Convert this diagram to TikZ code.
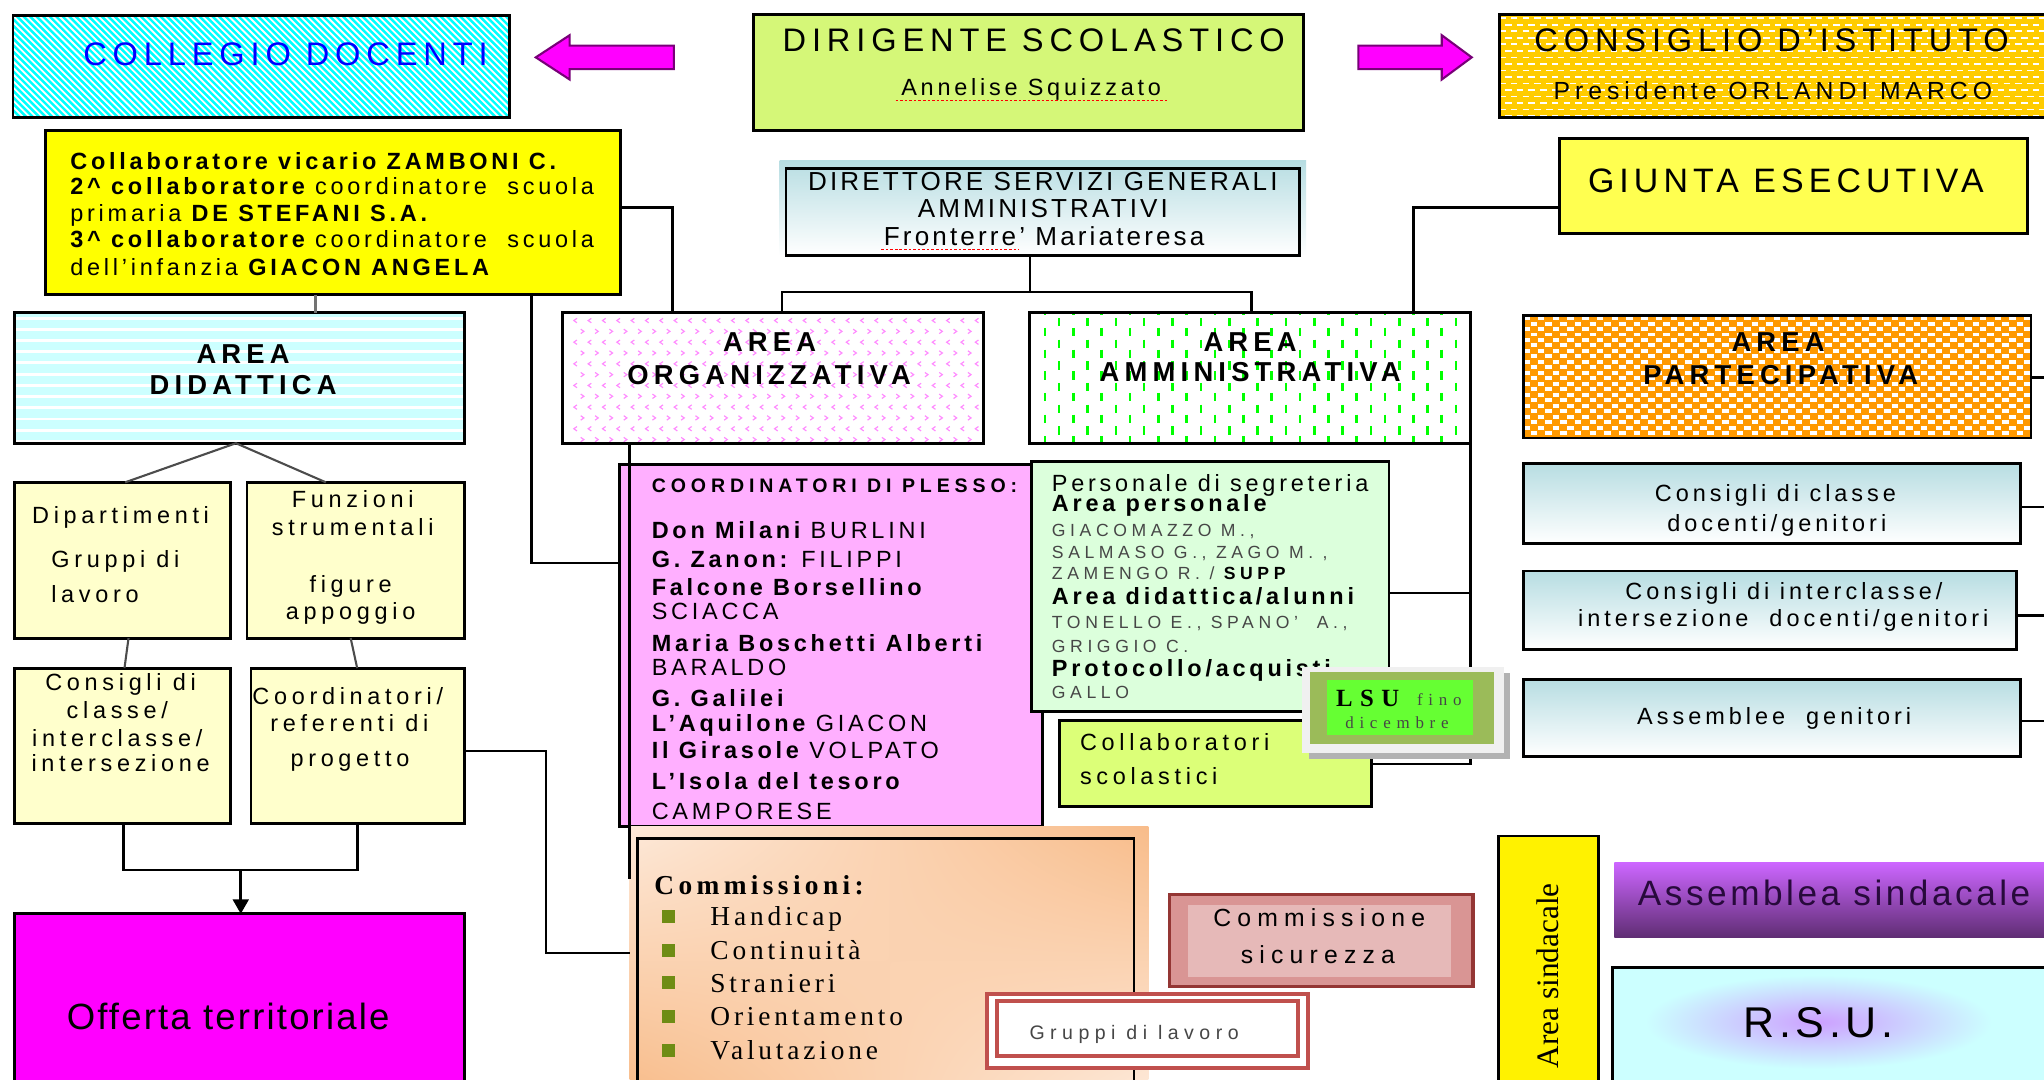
\documentclass[tikz,border=0pt]{standalone}
\usepackage{fontspec}
\setmainfont{Liberation Sans}
\newfontfamily\srf{Liberation Serif}
\usetikzlibrary{arrows.meta,fit,shadings}
\newcommand\fs[1]{\fontsize{#1}{#1}\selectfont}
\newcommand\ls[1]{\addfontfeature{LetterSpace=#1}}
\definecolor{cyanA}{RGB}{0,255,255}
\definecolor{lcyan}{RGB}{204,255,255}
\definecolor{dirig}{RGB}{213,247,120}
\definecolor{consI}{RGB}{255,204,0}
\definecolor{giuntaY}{RGB}{255,255,80}
\definecolor{collabY}{RGB}{255,255,0}
\definecolor{gradT}{RGB}{183,221,226}
\definecolor{pinkpl}{RGB}{255,175,255}
\definecolor{pinkmk}{RGB}{255,140,255}
\definecolor{greenA}{RGB}{0,255,0}
\definecolor{persG}{RGB}{220,255,220}
\definecolor{collS}{RGB}{220,255,120}
\definecolor{orangeP}{RGB}{255,153,0}
\definecolor{lyell}{RGB}{255,255,204}
\definecolor{mag}{RGB}{255,0,255}
\definecolor{purpB}{RGB}{120,0,120}
\definecolor{peachD}{RGB}{248,188,138}
\definecolor{peachL}{RGB}{253,233,217}
\definecolor{redG}{RGB}{192,80,77}
\definecolor{redD}{RGB}{148,54,52}
\definecolor{rosa}{RGB}{217,149,148}
\definecolor{rosaL}{RGB}{230,185,184}
\definecolor{oliveG}{RGB}{155,187,89}
\definecolor{lsuG}{RGB}{102,255,51}
\definecolor{violA}{RGB}{204,102,255}
\definecolor{violD}{RGB}{95,45,115}
\definecolor{lav}{RGB}{204,160,255}
\definecolor{bulG}{RGB}{110,140,20}
\definecolor{dg}{RGB}{70,70,70}
\definecolor{txtP}{RGB}{40,10,60}
\begin{document}
\begin{tikzpicture}[x=1pt,y=-1pt,
  bx/.style={draw=black, line width=2.2pt, inner sep=0pt, outer sep=0pt},
  fb/.style={inner sep=0pt, outer sep=0pt},
  conn/.style={draw=black, line width=2pt},
  thinc/.style={draw=black!70, line width=1.6pt},
  tx/.style={inner sep=0pt, outer sep=0pt, anchor=base},
  txw/.style={inner sep=0pt, outer sep=0pt, anchor=base west},
  brd/.style={draw=black, line width=2.2pt}]
\clip (0,0) rectangle (1568,828);
\fill[white] (0,0) rectangle (1568,828);

% ---------- COLLEGIO DOCENTI
\node[fb, fit={(10,12) (391,90)}, fill=cyanA] (collegio) {};
\begin{scope}
 \clip (10,12) rectangle (391,90);
 \foreach \i in {-80,-75,...,395} \draw[white, line width=1.4pt] (10+\i,12) -- (88+\i,90);
\end{scope}
\draw[brd] (collegio.north west) rectangle (collegio.south east);
\node[tx, text=blue] (tcol) at (219,50.5) {\fs{25}\ls{18}COLLEGIO DOCENTI};

% ---------- arrows
\path[fill=mag, draw=purpB, line width=1.6pt] (411,44) -- (437,27) -- (437,35) -- (517,35) -- (517,53) -- (437,53) -- (437,61) -- cycle;
\path[fill=mag, draw=purpB, line width=1.6pt] (1129,44) -- (1106,27) -- (1106,35) -- (1042,35) -- (1042,53) -- (1106,53) -- (1106,61) -- cycle;

% ---------- DIRIGENTE
\node[bx, fit={(578,11) (1000,100)}, fill=dirig] (dirig) {};
\node[tx] (tdir1) at (793,39.5) {\fs{25}\ls{18}DIRIGENTE SCOLASTICO};
\node[tx] (tdir2) at (791,73) {\fs{18}\ls{16}Annelise Squizzato};
\draw[red, line width=1pt, dash pattern=on 2pt off 1.5pt] (687,77) -- (896,77);

% ---------- CONSIGLIO
\node[fb, fit={(1150,11) (1600,90)}, fill=consI] (consiglio) {};
\begin{scope}
 \clip (1150,11) rectangle (1600,90);
 \foreach \y in {14,24,...,90} \draw[white, line width=1.3pt, dash pattern=on 5pt off 4pt] (1150,\y) -- (1600,\y);
 \foreach \y in {19,29,...,90} \draw[white, line width=1.3pt, dash pattern=on 5pt off 4pt, dash phase=4.5pt] (1150,\y) -- (1600,\y);
\end{scope}
\draw[brd] (consiglio.north west) rectangle (consiglio.south east);
\node[tx] (tcons1) at (1359,39.5) {\fs{25}\ls{18}CONSIGLIO D'ISTITUTO};
\node[tx] (tcons2) at (1360,76.5) {\fs{19}\ls{20}Presidente ORLANDI MARCO};

% ---------- GIUNTA
\node[bx, fit={(1196,106) (1555,179)}, fill=giuntaY] (giunta) {};
\node[tx] (tgiu) at (1370,148) {\fs{26}\ls{15}GIUNTA ESECUTIVA};

% ---------- DSGA
\shade[top color=gradT, bottom color=white] (598,123) rectangle (1002,196);
\node[bx, fit={(603,129) (997,196)}] (dsga) {};
\node[tx] (tds1) at (800,146.5) {\fs{20}\ls{12}DIRETTORE SERVIZI GENERALI};
\node[tx] (tds2) at (800,167) {\fs{20}\ls{12}AMMINISTRATIVI};
\node[tx] (tds3) at (801,188) {\fs{20}\ls{12}Fronterre' Mariateresa};
\draw[red, line width=1pt, dash pattern=on 2pt off 1.5pt] (676,191.5) -- (782,191.5);

% ---------- COLLABORATORI DS
\node[bx, fit={(35,100) (476,226)}, fill=collabY] (collab) {};
\node[txw] (tc1) at (54,130) {\bfseries\fs{18}\ls{16}Collaboratore vicario ZAMBONI C.};
\node[txw] (tc2) at (54,149) {\fs{18}\ls{16}{\bfseries 2\textasciicircum{} collaboratore} coordinatore \ scuola};
\node[txw] (tc3) at (54,170) {\fs{18}\ls{16}primaria {\bfseries DE STEFANI S.A.}};
\node[txw] (tc4) at (54,190) {\fs{18}\ls{16}{\bfseries 3\textasciicircum{} collaboratore} coordinatore \ scuola};
\node[txw] (tc5) at (54,211) {\fs{18}\ls{16}dell'infanzia {\bfseries GIACON ANGELA}};

% ---------- AREA DIDATTICA
\node[fb, fit={(11,240) (356,340)}, fill=lcyan] (didattica) {};
\begin{scope}
 \clip (11,240) rectangle (356,340);
 \foreach \y in {244,252.6,...,340} \draw[white, line width=2.2pt] (11,\y) -- (356,\y);
\end{scope}
\draw[brd] (didattica.north west) rectangle (didattica.south east);
\node[tx] (tad1) at (186.5,278.5) {\bfseries\fs{21}\ls{19}AREA};
\node[tx] (tad2) at (186.5,303) {\bfseries\fs{21}\ls{19}DIDATTICA};

% ---------- AREA ORGANIZZATIVA
\node[fb, fit={(431.5,240) (754.5,340)}, fill=white] (org) {};
\begin{scope}
 \clip (431.5,240) rectangle (754.5,340);
 \foreach \r in {0,...,5} \foreach \c in {0,...,29} {
   \draw[pinkmk, line width=0.9pt] (442.6+\c*11, 244.2+\r*16.6) -- ++(-2.4,1.7) -- ++(2.4,1.7);
   \draw[pinkmk, line width=0.9pt] (445.5+\c*11, 252.5+\r*16.6) -- ++(2.4,1.7) -- ++(-2.4,1.7);
 }
\end{scope}
\draw[brd] (org.north west) rectangle (org.south east);
\node[tx] (tao1) at (590.4,269.5) {\bfseries\fs{21}\ls{19}AREA};
\node[tx] (tao2) at (590,295) {\bfseries\fs{21}\ls{19}ORGANIZZATIVA};

% ---------- AREA AMMINISTRATIVA
\node[fb, fit={(790,240) (1128,340)}, fill=white] (amm) {};
\begin{scope}
 \clip (790,240) rectangle (1128,340);
 \foreach \c in {0,...,15} {
   \draw[greenA, line width=2pt, dash pattern=on 6.4pt off 10.2pt] (801.6+\c*21.74, 235) -- ++(0,110);
   \draw[greenA, line width=2pt, dash pattern=on 6.4pt off 10.2pt] (812.5+\c*21.74, 227.4) -- ++(0,120);
 }
\end{scope}
\draw[brd] (amm.north west) rectangle (amm.south east);
\node[tx] (taa1) at (959,269.5) {\bfseries\fs{21}\ls{19}AREA};
\node[tx] (taa2) at (959,292.5) {\bfseries\fs{21}\ls{19}AMMINISTRATIVA};

% ---------- AREA PARTECIPATIVA
\node[fb, fit={(1168.5,242) (1558,336)}, fill=orangeP] (part) {};
\begin{scope}
 \clip (1168.5,242) rectangle (1558,336);
 \foreach \y in {244,252.4,...,340} \draw[white, line width=3pt, dash pattern=on 5pt off 6.3pt] (1168.5,\y) -- (1560,\y);
 \foreach \y in {248.2,256.6,...,340} \draw[white, line width=3pt, dash pattern=on 5pt off 6.3pt, dash phase=5.65pt] (1168.5,\y) -- (1560,\y);
\end{scope}
\draw[brd] (part.north west) rectangle (part.south east);
\node[tx] (tap1) at (1364,269.5) {\bfseries\fs{21}\ls{19}AREA};
\node[tx] (tap2) at (1366,295) {\bfseries\fs{21}\ls{19}PARTECIPATIVA};

% ---------- left column
\node[bx, fit={(11,370) (177,489.5)}, fill=lyell] (dip) {};
\node[bx, fit={(189.5,370) (356,489.5)}, fill=lyell] (fun) {};
\node[bx, fit={(11,512.5) (177,631.5)}, fill=lyell] (ccl) {};
\node[bx, fit={(192.5,512.5) (356,631.5)}, fill=lyell] (cref) {};
\node[bx, fit={(11,701) (356,840)}, fill=mag] (off) {};
\node[tx] (td1) at (92.5,401.5) {\fs{18}\ls{20}Dipartimenti};
\node[txw] (td2) at (39.4,435.6) {\fs{18}\ls{20}Gruppi di};
\node[txw] (td3) at (39.4,462) {\fs{18}\ls{20}lavoro};
\node[tx] (tf1) at (270.6,389.6) {\fs{18}\ls{20}Funzioni};
\node[tx] (tf2) at (270.6,410.7) {\fs{18}\ls{20}strumentali};
\node[tx] (tf3) at (269,454.4) {\fs{18}\ls{20}figure};
\node[tx] (tf4) at (269,475.5) {\fs{18}\ls{20}appoggio};
\node[tx] (tk1) at (92.5,529.8) {\fs{18}\ls{20}Consigli di};
\node[tx] (tk2) at (90,550.8) {\fs{18}\ls{20}classe/};
\node[tx] (tk3) at (90,572.6) {\fs{18}\ls{20}interclasse/};
\node[tx] (tk4) at (92.5,592) {\fs{18}\ls{20}intersezione};
\node[tx] (tr1) at (266.8,540.4) {\fs{18}\ls{20}Coordinatori/};
\node[tx] (tr2) at (268,561.5) {\fs{18}\ls{20}referenti di};
\node[tx] (tr3) at (268.5,588) {\fs{18}\ls{20}progetto};
\node[tx] (toff) at (175,789.5) {\fs{28}\ls{6}Offerta territoriale};

% ---------- COORDINATORI DI PLESSO
\node[bx, fit={(475,356) (800,634)}, fill=pinkpl] (coordPl) {};
\node[txw] (cp0) at (500,378) {\bfseries\fs{15}\ls{25}COORDINATORI DI PLESSO:};
\node[txw] (cp1) at (500,413) {\fs{18}\ls{16}{\bfseries Don Milani} BURLINI};
\node[txw] (cp2) at (500,435) {\fs{18}\ls{16}{\bfseries G. Zanon:} FILIPPI};
\node[txw] (cp3) at (500,457) {\bfseries\fs{18}\ls{16}Falcone Borsellino};
\node[txw] (cp4) at (500,475) {\fs{18}\ls{16}SCIACCA};
\node[txw] (cp5) at (500,500) {\bfseries\fs{18}\ls{16}Maria Boschetti Alberti};
\node[txw] (cp6) at (500,518) {\fs{18}\ls{16}BARALDO};
\node[txw] (cp7) at (500,542) {\bfseries\fs{18}\ls{16}G. Galilei};
\node[txw] (cp8) at (500,561) {\fs{18}\ls{16}{\bfseries L'Aquilone} GIACON};
\node[txw] (cp9) at (500,582) {\fs{18}\ls{16}{\bfseries Il Girasole} VOLPATO};
\node[txw] (cp10) at (500,606) {\bfseries\fs{18}\ls{16}L'Isola del tesoro};
\node[txw] (cp11) at (500,629) {\fs{18}\ls{16}CAMPORESE};

% ---------- Personale di segreteria
\node[bx, fit={(791.5,354) (1065.5,546)}, fill=persG] (persSeg) {};
\node[txw] (ps1) at (807,377) {\fs{18}\ls{16}Personale di segreteria};
\node[txw] (ps2) at (807,392) {\bfseries\fs{18}\ls{16}Area personale};
\node[txw, text=dg] (ps3) at (807,411.5) {\fs{13.5}\ls{26}GIACOMAZZO M.,};
\node[txw, text=dg] (ps4) at (807,428.5) {\fs{13.5}\ls{26}SALMASO G., ZAGO M. ,};
\node[txw, text=dg] (ps5) at (807,444.5) {\fs{13.5}\ls{26}ZAMENGO R. / {\bfseries\color{black}SUPP}};
\node[txw] (ps6) at (807,464) {\bfseries\fs{18}\ls{16}Area didattica/alunni};
\node[txw, text=dg] (ps7) at (807,482.5) {\fs{13.5}\ls{26}TONELLO E., SPANO' \ A.,};
\node[txw, text=dg] (ps8) at (807,500.5) {\fs{13.5}\ls{26}GRIGGIO C.};
\node[txw] (ps9) at (807,519) {\bfseries\fs{18}\ls{16}Protocollo/acquisti};
\node[txw, text=dg] (ps10) at (807,535.5) {\fs{13.5}\ls{26}GALLO};

% ---------- Collaboratori scolastici
\node[bx, fit={(812.5,553) (1052,619)}, fill=collS] (collSc) {};
\node[txw] (cs1) at (828.5,576) {\fs{18}\ls{20}Collaboratori};
\node[txw] (cs2) at (828.5,602) {\fs{18}\ls{20}scolastici};

% ---------- Commissioni
\shade[upper left=peachL, upper right=peachD, lower left=peachD, lower right=peachL] (483,634) rectangle (881,840);
\node[fb, fit={(483,634) (881,840)}] (commbg) {};
\node[fb, fit={(489,643) (870,840)}, draw=black, line width=2pt] (comm) {};
\node[txw] (tcm) at (502,686) {\srf\bfseries\fs{21}\ls{16}Commissioni:};
\foreach \yy/\lab [count=\k] in {703/Handicap, 729/Continuità, 754/Stranieri, 780/Orientamento, 805.5/Valutazione} {
  \fill[bulG] (508,\yy-5) rectangle (518,\yy+5);
  \node[txw] (cmi\k) at (545,\yy+7) {\srf\fs{21}\ls{14}\lab};
}

% ---------- Commissione sicurezza
\node[fb, fit={(897,686) (1130,757)}, fill=rosa, draw=redD, line width=2.5pt] (sic) {};
\fill[rosaL] (911.6,694.2) rectangle (1113.3,749.2);
\node[tx] (ts1) at (1012,711) {\fs{19}\ls{25}Commissione};
\node[tx] (ts2) at (1011,739) {\fs{19}\ls{25}sicurezza};

% ---------- right column
\shade[top color=gradT, bottom color=white] (1168.4,355.4) rectangle (1550,416.8);
\node[bx, fit={(1168.4,355.4) (1550,416.8)}] (cc) {};
\shade[top color=gradT, bottom color=white] (1168.4,438) rectangle (1547,498);
\node[bx, fit={(1168.4,438) (1547,498)}] (ic) {};
\shade[top color=gradT, bottom color=white] (1168.4,521) rectangle (1550,580.4);
\node[bx, fit={(1168.4,521) (1550,580.4)}] (ag) {};
\node[tx] (tcc1) at (1362,384.5) {\fs{18}\ls{17}Consigli di classe};
\node[tx] (tcc2) at (1363,407.7) {\fs{18}\ls{17}docenti/genitori};
\node[tx] (tic1) at (1368.5,460) {\fs{18}\ls{17}Consigli di interclasse/};
\node[tx] (tic2) at (1368,480.6) {\fs{18}\ls{17}intersezione \ docenti/genitori};
\node[tx] (tag) at (1361,556) {\fs{18}\ls{17}Assemblee \ genitori};

\node[bx, fit={(1149.4,641.3) (1226.3,840)}, fill=yellow] (sind) {};
\node[inner sep=0pt, rotate=90] (tsind) at (1187,748.6) {\srf\fs{24}Area sindacale};

\shade[top color=violA, middle color=violA, bottom color=violD] (1238.5,662) rectangle (1600,719.3);
\node[fb, fit={(1238.5,662) (1600,719.3)}] (asind) {};
\node[tx, text=txtP] (tas) at (1407,695) {\fs{27}\ls{10}Assemblea sindacale};

\node[bx, fit={(1237,742) (1600,840)}, fill=lcyan] (rsu) {};
\shade[inner color=lav, outer color=lcyan] (1262,748) rectangle (1528,820);
\node[tx] (trsu) at (1395,795.5) {\fs{33}\ls{11}R.S.U.};

% ---------- connectors
\draw[conn] (collab.east |- 0,159) -| (org.north -| 516,0);
\draw[conn, draw=black!55] (collab.south -| 242,0) -- (didattica.north -| 242,0);
\draw[conn] (collab.south -| 407.5,0) |- (coordPl.west |- 0,432);
\coordinate (brk) at (790,224);
\draw[conn] (dsga.south -| brk) -- (brk);
\draw[conn] (org.north -| 600,0) |- (brk) -| (amm.north -| 960,0);
\draw[conn] (giunta.west |- 0,159) -| (amm.north -| 1084.5,0);
\coordinate (apx) at (181,340);
\draw[thinc] (dip.north -| 96,0) -- (didattica.south -| apx) -- (fun.north -| 250,0);
\draw[thinc] (dip.south -| 98.6,0) -- (ccl.north -| 95.5,0);
\draw[thinc] (fun.south -| 269,0) -- (cref.north -| 274,0);
\coordinate (join) at (184.7,667.5);
\draw[conn] (ccl.south -| 94.6,0) |- (join) -| (cref.south -| 274.4,0);
\draw[conn, -{Triangle[length=11pt, width=12pt]}] (join) -- (off.north -| join);
\draw[conn] (cref.east |- 0,576) -- (418.8,576) |- (commbg.west |- 0,731);
\coordinate (orgEnd) at (483,674);
\draw[conn] (org.south -| orgEnd) -- (orgEnd);
\draw[conn] (amm.south east) |- (collSc.east);
\draw[conn] (persSeg.east |- 0,455) -- (amm.south east |- 0,455);
\coordinate (eP) at (1572,289.5);
\coordinate (eC) at (1572,389);
\coordinate (eI) at (1572,472);
\coordinate (eA) at (1572,553);
\draw[conn] (part.east |- eP) -- (eP);
\draw[conn] (cc.east |- eC) -- (eC);
\draw[conn] (ic.east |- eI) -- (eI);
\draw[conn] (ag.east |- eA) -- (eA);

% ---------- LSU (on top)
\fill[black!30] (1004,516) rectangle (1158,582);
\node[fb, fit={(999,511.5) (1154,578)}, fill=black!6] (lsu) {};
\fill[oliveG] (1005,515.5) rectangle (1146,571);
\fill[lsuG] (1018,522) rectangle (1130,564);
\node[txw] (tl1) at (1025,542) {\srf\bfseries\fs{19}\ls{30}LSU};
\node[txw, text=dg] (tl2) at (1087,541.5) {\srf\fs{13}\ls{34}fino};
\node[txw, text=dg] (tl3) at (1032,559) {\srf\fs{13}\ls{34}dicembre};

% ---------- Gruppi di lavoro (on top)
\node[fb, fit={(757,762.2) (1003.7,819.2)}, fill=white, draw=redG, line width=3pt] (gruppi) {};
\draw[redG, line width=3pt] (765,768.2) rectangle (995.7,810.3);
\node[tx, text=dg] (tg) at (870,797.5) {\fs{15}\ls{28}Gruppi di lavoro};
\end{tikzpicture}
\end{document}
